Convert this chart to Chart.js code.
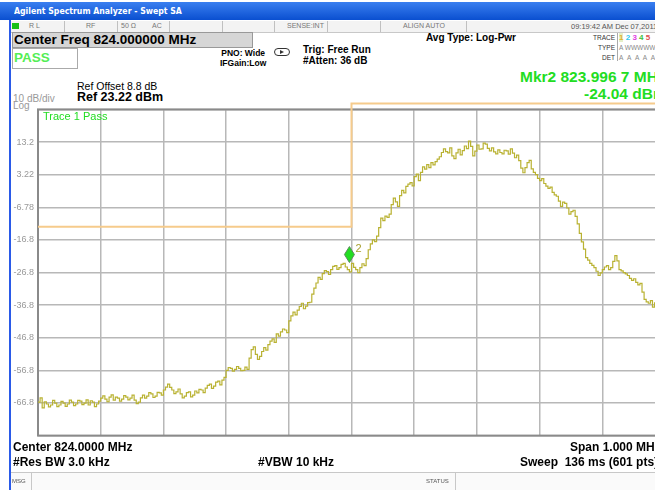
<!DOCTYPE html>
<html>
<head>
<meta charset="utf-8">
<script src="https://cdn.jsdelivr.net/npm/chart.js@4.4.1/dist/chart.umd.min.js"></script>
<style>
  html, body { margin: 0; padding: 0; }
  body { width: 655px; height: 490px; overflow: hidden; position: relative; background: #fff;
         font-family: "Liberation Sans", Arial, sans-serif; color: #000; }
  .a { position: absolute; white-space: nowrap; }
  .b { font-weight: bold; }
  #titlebar { left: 0; top: 2px; width: 655px; height: 18px; background: linear-gradient(#3a7ff0, #0a4fd0); }
  #statusrow { left: 11px; top: 21px; width: 644px; height: 11px; background: #f3f3f3; border-bottom: 1px solid #c8c8c8; }
  .sep { position: absolute; top: 21px; width: 1px; height: 11px; background: #c0c0c0; }
  .tiny { font-size: 7px; color: #777; }
  #blueedge { left: 9px; top: 20px; width: 2px; height: 470px; background: #2a5ae8; }
  #cfbox { left: 12px; top: 32px; width: 239px; height: 14px; background: #d6d6d6; border: 1px solid #999; }
  #passbox { left: 12px; top: 48px; width: 64px; height: 19px; border: 1px solid #aaa; background: #fff; }
  #canvasWrap { position: absolute; left: 0; top: 100px; width: 700px; height: 345px; }
  #botbar { left: 11px; top: 472px; width: 644px; height: 18px; border-top: 1px solid #c8c8c8; background: #fafafa; }
  .bot { font-size: 12px; font-weight: bold; }
</style>
</head>
<body>
<div id="titlebar" class="a"></div>
<div class="a b" style="left:14px;top:5px;font-size:9.5px;color:#fff;transform:scaleX(0.82);transform-origin:left;font-family:'DejaVu Sans',sans-serif;">Agilent Spectrum Analyzer - Swept SA</div>
<div id="statusrow" class="a"></div>
<div id="blueedge" class="a"></div>
<div class="a" style="left:12px;top:23px;width:7px;height:6px;background:#18c018;"></div>
<div class="a tiny" style="left:29px;top:22px;">R L</div>
<div class="sep" style="left:64px"></div>
<div class="a tiny" style="left:86px;top:22px;">RF</div>
<div class="sep" style="left:117px"></div>
<div class="a tiny" style="left:121px;top:22px;">50 Ω</div>
<div class="a tiny" style="left:152px;top:22px;">AC</div>
<div class="sep" style="left:169px"></div>
<div class="sep" style="left:222px"></div>
<div class="sep" style="left:274px"></div>
<div class="a tiny" style="left:287px;top:22px;">SENSE:INT</div>
<div class="sep" style="left:327px"></div>
<div class="sep" style="left:380px"></div>
<div class="a tiny" style="left:403px;top:22px;">ALIGN AUTO</div>
<div class="sep" style="left:466px"></div>
<div class="a tiny" style="left:571px;top:22px;color:#555;font-size:7.5px;">09:19:42 AM Dec 07,2011</div>

<div id="cfbox" class="a"></div>
<div class="a b" style="left:14px;top:32px;font-size:13.5px;">Center Freq 824.000000 MHz</div>
<div id="passbox" class="a"></div>
<div class="a b" style="left:14px;top:50px;font-size:13.5px;color:#55ee55;">PASS</div>
<div class="a b" style="left:220px;top:48px;font-size:8.5px;line-height:10px;text-align:center;">PNO: Wide<br>IFGain:Low</div>
<div class="a" style="left:274px;top:48px;width:14px;height:6px;border:1px solid #333;border-radius:4px;"></div>
<div class="a" style="left:280px;top:50px;width:0;height:0;border-top:2px solid transparent;border-bottom:2px solid transparent;border-left:4px solid #333;"></div>
<div class="a b" style="left:303px;top:44px;font-size:10px;line-height:11px;">Trig: Free Run<br>#Atten: 36 dB</div>
<div class="a b" style="left:426px;top:32px;font-size:10px;">Avg Type: Log-Pwr</div>
<div class="a" style="left:560px;top:33px;width:55px;font-size:6.5px;line-height:10px;text-align:right;color:#333;">TRACE<br>TYPE<br>DET</div>
<div class="a" style="left:617px;top:33px;width:1px;height:28px;background:#aaa;"></div>
<div class="a" style="left:619px;top:33px;font-size:8px;line-height:10px;font-weight:bold;"><span style="background:#e6f0c8;color:#e0b030">1</span> <span style="color:#30c8f0">2</span> <span style="color:#e040e0">3</span> <span style="color:#40c040">4</span> <span style="color:#e05050">5</span></div>
<div class="a" style="left:619px;top:43px;font-size:6.5px;line-height:10px;color:#888;">A WWWWW<br>A&nbsp;&nbsp;A&nbsp;&nbsp;A&nbsp;&nbsp;A&nbsp;&nbsp;A</div>

<div class="a b" style="left:520px;top:68px;font-size:15.5px;color:#22dd22;">Mkr2 823.996 7 MHz</div>
<div class="a b" style="left:584px;top:85px;font-size:15.5px;color:#22dd22;">-24.04 dBm</div>
<div class="a" style="left:77px;top:80px;font-size:10.5px;">Ref Offset 8.8 dB</div>
<div class="a b" style="left:77px;top:90px;font-size:12.5px;">Ref 23.22 dBm</div>
<div class="a" style="left:13px;top:93px;font-size:10px;color:#999;">10 dB/div</div>
<div class="a" style="left:13px;top:101px;font-size:10px;color:#999;line-height:9px;">Log</div>

<div id="canvasWrap"><canvas id="spec" width="700" height="345"></canvas></div>
<div class="a" style="left:43px;top:110px;font-size:11px;color:#22dd22;">Trace 1 Pass</div>

<div class="a bot" style="left:13px;top:440px;">Center 824.0000 MHz</div>
<div class="a bot" style="left:13px;top:455px;">#Res BW 3.0 kHz</div>
<div class="a bot" style="left:258px;top:455px;">#VBW 10 kHz</div>
<div class="a bot" style="left:570px;top:440px;">Span 1.000 MHz</div>
<div class="a bot" style="left:520px;top:455px;">Sweep&nbsp;&nbsp;136 ms (601 pts)</div>
<div id="botbar" class="a"></div>
<div class="a tiny" style="left:12px;top:478px;font-size:6px;color:#555;">MSG</div>
<div class="a" style="left:31px;top:473px;width:1px;height:17px;background:#c8c8c8;"></div>
<div class="a tiny" style="left:426px;top:478px;font-size:6px;color:#555;">STATUS</div>
<div class="a" style="left:455px;top:473px;width:1px;height:17px;background:#c8c8c8;"></div>

<script>
// sweep: 823.5 - 824.5 MHz, one value every 2nd of the 601 points
const startMHz = 823.5;
const stopMHz = 824.5;
const xTicks = [823.5, 823.6, 823.7, 823.8, 823.9, 824.0, 824.1, 824.2, 824.3, 824.4, 824.5];
const yTicks = [23.22, 13.22, 3.22, -6.78, -16.78, -26.78, -36.78, -46.78, -56.78, -66.78, -76.78];
const yTickLabels = ['', '13.2', '3.22', '-6.78', '-16.8', '-26.8', '-36.8', '-46.8', '-56.8', '-66.8', ''];

const traceDbm = [
  -66.5, -65.2, -68.3, -66.4, -67.1, -68.0, -67.4, -66.0, -66.8, -67.9,
  -67.4, -66.3, -66.8, -67.8, -67.1, -65.9, -66.5, -67.6, -67.1, -66.0,
  -66.2, -67.3, -66.8, -65.8, -67.4, -66.1, -66.5, -67.9, -67.1, -66.2,
  -65.3, -64.6, -65.6, -66.4, -65.0, -64.3, -65.9, -65.0, -65.3, -66.2,
  -65.6, -64.5, -65.0, -65.8, -65.3, -64.4, -65.9, -67.0, -66.5, -65.2,
  -64.4, -65.3, -64.7, -63.6, -64.0, -65.1, -64.7, -63.5, -63.7, -64.4,
  -62.8, -61.9, -61.0, -62.0, -62.8, -63.9, -63.4, -62.5, -64.0, -65.2,
  -64.7, -63.6, -63.4, -64.9, -64.4, -63.1, -63.7, -62.6, -62.8, -63.6,
  -62.2, -61.4, -61.0, -62.3, -61.6, -60.4, -60.1, -61.2, -59.8, -58.9,
  -56.8, -55.9, -56.2, -57.0, -56.5, -55.6, -56.2, -56.9, -56.8, -55.8,
  -56.5, -53.0, -50.4, -49.6, -51.9, -53.4, -52.5, -51.0, -49.8, -50.6,
  -48.9, -47.8, -47.1, -48.2, -45.6, -46.3, -45.0, -44.1, -44.4, -45.2,
  -41.6, -40.1, -38.9, -39.8, -38.3, -37.2, -36.2, -37.9, -37.1, -36.0,
  -35.9, -33.4, -31.6, -30.0, -28.3, -28.9, -27.1, -26.2, -26.5, -27.4,
  -25.9, -24.9, -24.7, -25.8, -25.3, -24.3, -24.0, -25.1, -25.9, -26.6,
  -24.0, -25.2, -25.9, -26.8, -25.3, -24.1, -24.7, -22.5, -19.8, -18.0,
  -16.8, -17.3, -15.6, -13.0, -10.1, -10.9, -9.5, -9.9, -8.9, -6.0,
  -4.0, -5.1, -6.5, -3.2, -1.6, -2.4, -0.4, 0.3, 0.8, -0.2,
  2.6, 3.4, 1.4, 3.9, 5.6, 4.9, 6.3, 5.4, 6.9, 6.2,
  7.2, 8.0, 8.7, 10.0, 11.1, 10.3, 9.9, 11.4, 9.0, 8.1,
  9.9, 11.0, 9.3, 10.6, 12.0, 11.2, 13.5, 11.9, 9.0, 10.4,
  12.3, 11.0, 11.1, 12.9, 12.6, 11.3, 10.5, 11.4, 10.2, 9.6,
  10.8, 10.0, 9.6, 10.7, 10.5, 9.5, 11.1, 9.8, 8.4, 9.2,
  7.5, 5.2, 3.8, 5.4, 6.9, 7.6, 5.0, 3.9, 3.2, 2.1,
  1.4, 2.0, 0.5, -0.3, -1.0, -0.6, -2.2, -3.0, -3.4, -4.9,
  -6.5, -5.2, -5.6, -7.0, -8.9, -8.1, -7.7, -9.6, -11.9, -14.8,
  -17.4, -19.6, -22.2, -23.0, -24.0, -24.6, -25.3, -26.4, -27.7, -26.9,
  -25.9, -25.1, -24.7, -25.9, -25.3, -23.4, -21.6, -23.2, -25.9, -26.3,
  -26.8, -27.2, -27.7, -28.6, -29.2, -28.7, -29.8, -30.6, -30.1, -32.8,
  -35.0, -35.8, -36.2, -35.4, -37.4, -36.1, -35.0, -35.7, -36.2, -37.0,
  -36.8
];

const limitFreq = [823.5, 824.0, 824.0, 824.5];
const limitDbm = [-12.78, -12.78, 25.0, 25.0];

const markerFreq = 823.9967;
const markerDbm = -24.04;

const stepMHz = (stopMHz - startMHz) / (traceDbm.length - 1);
const tracePts = traceDbm.map((v, i) => ({ x: startMHz + i * stepMHz, y: v }));
const limitPts = limitFreq.map((f, i) => ({ x: f, y: limitDbm[i] }));

const frameAndMarker = {
  id: 'frameAndMarker',
  beforeDatasetsDraw(chart) {
    const { ctx, chartArea: a } = chart;
    ctx.save();
    ctx.strokeStyle = '#8a8a8a';
    ctx.lineWidth = 2;
    ctx.strokeRect(a.left, a.top, a.right - a.left, a.bottom - a.top);
    ctx.restore();
  },
  afterDatasetsDraw(chart) {
    const { ctx, scales } = chart;
    const px = scales.x.getPixelForValue(markerFreq);
    const py = scales.y.getPixelForValue(markerDbm) - 9;
    ctx.save();
    ctx.beginPath();
    ctx.moveTo(px, py - 8);
    ctx.lineTo(px + 5, py);
    ctx.lineTo(px, py + 8);
    ctx.lineTo(px - 5, py);
    ctx.closePath();
    ctx.fillStyle = '#22dd22';
    ctx.fill();
    ctx.strokeStyle = '#5a8a5a';
    ctx.lineWidth = 1;
    ctx.stroke();
    ctx.fillStyle = '#a8a030';
    ctx.font = '11px "Liberation Sans", Arial';
    ctx.fillText('2', px + 6, py - 3);
    ctx.restore();
  }
};

const ctx = document.getElementById('spec').getContext('2d');
const chart = new Chart(ctx, {
  type: 'scatter',
  data: {
    datasets: [
      {
        data: limitPts,
        showLine: true,
        borderColor: '#f6cb8c',
        borderWidth: 2,
        pointRadius: 0,
        clip: false
      },
      {
        data: tracePts,
        showLine: true,
        borderColor: '#b9b232',
        borderWidth: 1.2,
        pointRadius: 0,
        stepped: true
      }
    ]
  },
  options: {
    responsive: false,
    animation: false,
    events: [],
    layout: { padding: { left: 0, right: 35, top: 8, bottom: 7 } },
    plugins: { legend: { display: false }, tooltip: { enabled: false } },
    scales: {
      x: {
        type: 'linear',
        min: startMHz,
        max: stopMHz,
        afterBuildTicks: (scale) => { scale.ticks = xTicks.map(v => ({ value: v })); },
        afterFit: (scale) => { scale.height = 0; },
        ticks: { display: false },
        grid: { color: '#b8b8b8', lineWidth: 1.5, drawTicks: false },
        border: { display: false }
      },
      y: {
        min: -76.78,
        max: 23.22,
        afterBuildTicks: (scale) => { scale.ticks = yTicks.map(v => ({ value: v })); },
        afterFit: (scale) => { scale.width = 38; },
        ticks: {
          autoSkip: false,
          padding: 4,
          color: '#999',
          font: { family: '"Liberation Sans", Arial', size: 9 },
          callback: (v, i) => yTickLabels[i]
        },
        grid: { color: '#b8b8b8', lineWidth: 1.5, drawTicks: false },
        border: { display: false }
      }
    }
  },
  plugins: [frameAndMarker]
});
</script>
</body>
</html>
